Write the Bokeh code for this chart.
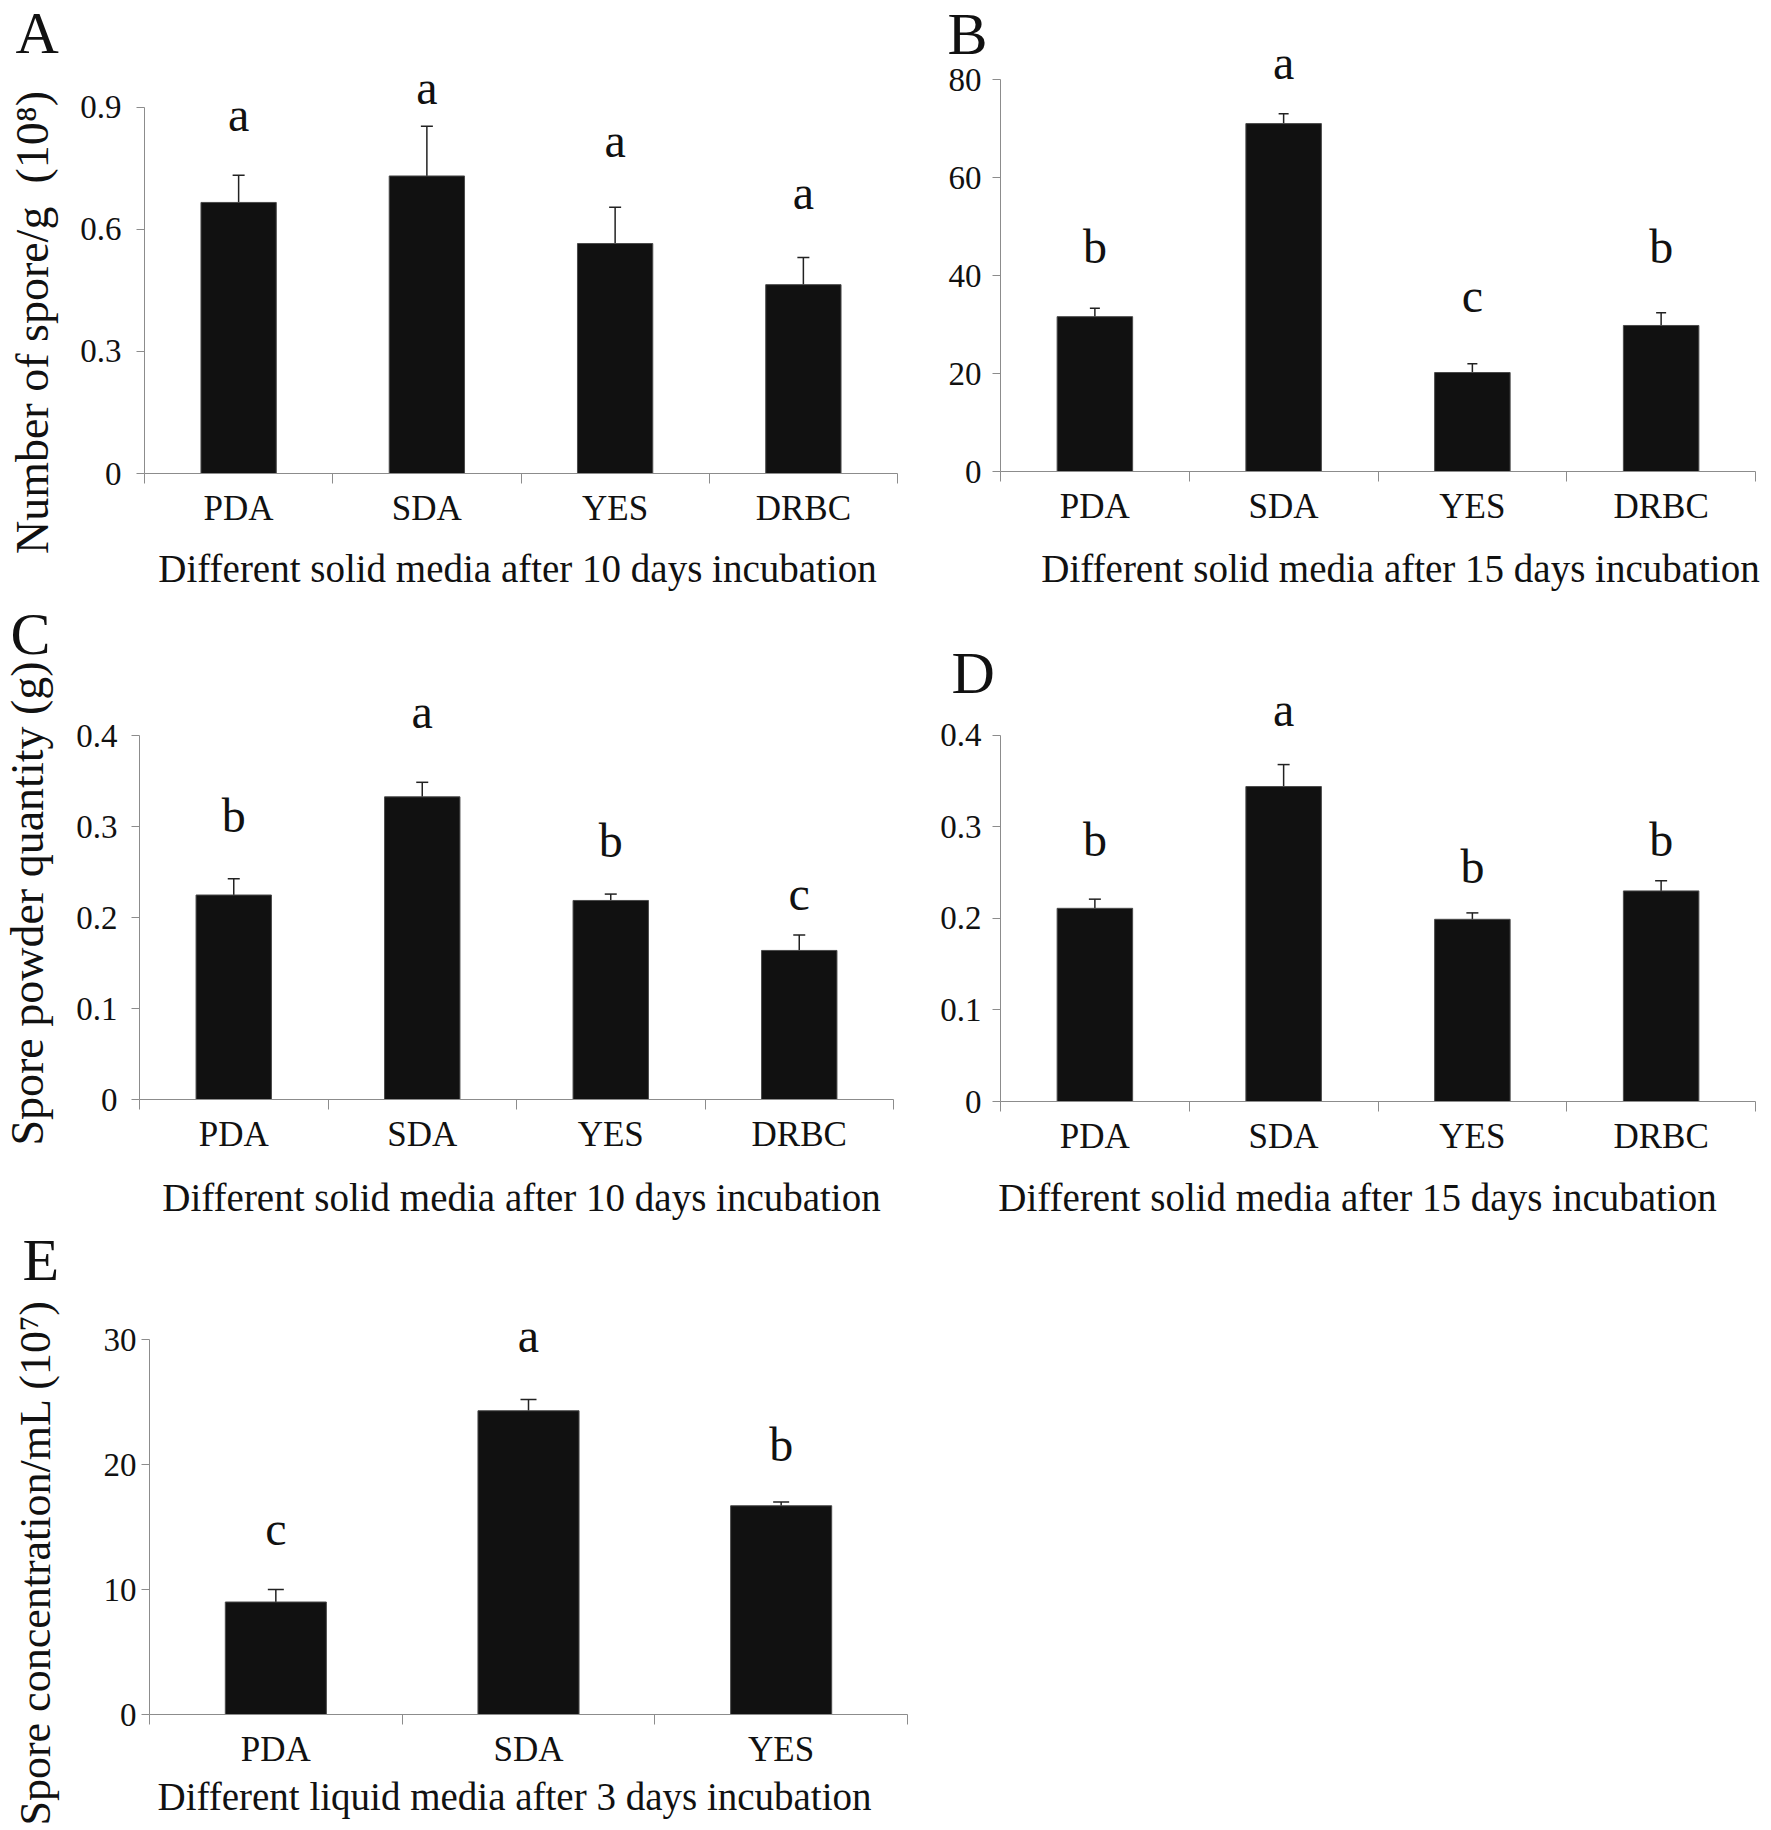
import math
from bokeh.plotting import figure
from bokeh.layouts import row, column
from bokeh.models import Range1d, FixedTicker, Whisker, TeeHead, ColumnDataSource, GridBox
from bokeh.core.properties import value
from bokeh.embed import file_html
from bokeh.resources import INLINE

FONT = "Liberation Serif"
GRAY = "#8c8c8c"
INK = "#111111"
PAGE_W, PAGE_H = 1763, 1830
BASE_FIX = 0.38  # em shift that brings Bokeh's "alphabetic" baseline onto the intended line

# ---------------- data ----------------
media4 = ["PDA", "SDA", "YES", "DRBC"]
media3 = ["PDA", "SDA", "YES"]

A_mean = [0.666, 0.731, 0.565, 0.464]
A_err = [0.067, 0.122, 0.089, 0.067]
A_letters = ["a", "a", "a", "a"]
A_yticks = [0, 0.3, 0.6, 0.9]
A_ylabels = ["0", "0.3", "0.6", "0.9"]

B_mean = [31.6, 71.0, 20.2, 29.8]
B_err = [1.7, 2.0, 1.8, 2.6]
B_letters = ["b", "a", "c", "b"]
B_yticks = [0, 20, 40, 60, 80]
B_ylabels = ["0", "20", "40", "60", "80"]

C_mean = [0.225, 0.333, 0.219, 0.164]
C_err = [0.018, 0.016, 0.007, 0.017]
C_letters = ["b", "a", "b", "c"]
C_yticks = [0, 0.1, 0.2, 0.3, 0.4]
C_ylabels = ["0", "0.1", "0.2", "0.3", "0.4"]

D_mean = [0.211, 0.344, 0.199, 0.230]
D_err = [0.010, 0.024, 0.007, 0.011]
D_letters = ["b", "a", "b", "b"]
D_yticks = [0, 0.1, 0.2, 0.3, 0.4]
D_ylabels = ["0", "0.1", "0.2", "0.3", "0.4"]

E_mean = [9.0, 24.3, 16.7]
E_err = [1.0, 0.9, 0.3]
E_letters = ["c", "a", "b"]
E_yticks = [0, 10, 20, 30]
E_ylabels = ["0", "10", "20", "30"]

# height (data units) of the significance letters' baselines
A_letter_y = [0.837, 0.903, 0.774, 0.646]
B_letter_y = [42.3, 79.8, 32.2, 42.3]
C_letter_y = [0.293, 0.407, 0.265, 0.207]
D_letter_y = [0.266, 0.408, 0.237, 0.266]
E_letter_y = [13.46, 28.85, 20.16]

# ---------------- titles (text, page position) ----------------
tags = ["A", "B", "C", "D", "E"]
tag_pos = [(15, 55), (947, 56), (10, 656), (951, 695), (22, 1282)]

x_titles = ["Different solid media after 10 days incubation",
            "Different solid media after 15 days incubation",
            "Different solid media after 10 days incubation",
            "Different solid media after 15 days incubation",
            "Different liquid media after 3 days incubation"]
x_title_pos = [(517, 583), (1400, 583), (521, 1212), (1357, 1212), (514, 1811)]

y_titles = ["Number of spore/g \u00a0(10\u2078)",
            "Spore powder quantity (g)",
            "Spore concentration/mL (10\u2077)"]
y_title_pos = [(32, 322), (27, 903), (35, 1562)]
y_title_size = [46, 46, 44]

LETTER_FS = 48
TAG_FS = 60
XT_FS = 39


def panel(cats, means, errs, letters, letter_y, yticks, ylabels, yend,
          origin, size, xframe, zero_px, tick_px, cap, ystandoff):
    ox, oy = origin
    w, h = size
    L, R = xframe
    B = zero_px
    T = int(round(B - (B - tick_px) * yend / yticks[-1]))
    n = len(cats)
    p = figure(width=w, height=h, x_range=Range1d(0, n), y_range=Range1d(0, yend),
               output_backend="svg", toolbar_location=None,
               min_border_left=L - ox, min_border_right=ox + w - R,
               min_border_top=T - oy, min_border_bottom=oy + h - B)
    p.outline_line_color = None
    p.xgrid.visible = False
    p.ygrid.visible = False
    p.background_fill_color = None
    p.border_fill_color = None

    centers = [i + 0.5 for i in range(n)]
    bounds = [float(i) for i in range(n + 1)]

    xa = p.xaxis[0]
    xa.ticker = FixedTicker(ticks=centers, minor_ticks=bounds)
    xa.major_label_overrides = {c: lab for c, lab in zip(centers, cats)}
    xa.axis_line_color = GRAY
    xa.major_tick_out = 0
    xa.major_tick_in = 0
    xa.major_tick_line_color = None
    xa.minor_tick_out = 10
    xa.minor_tick_in = 0
    xa.minor_tick_line_color = GRAY
    xa.major_label_standoff = 5
    xa.major_label_text_font = FONT
    xa.major_label_text_font_size = "35px"
    xa.major_label_text_color = INK

    ya = p.yaxis[0]
    ya.ticker = FixedTicker(ticks=yticks, minor_ticks=[])
    ya.major_label_overrides = {t: lab for t, lab in zip(yticks, ylabels)}
    ya.bounds = (0, yticks[-1])
    ya.axis_line_color = GRAY
    ya.major_tick_line_color = GRAY
    ya.major_tick_out = 8
    ya.major_tick_in = 0
    ya.minor_tick_line_color = None
    ya.major_label_standoff = ystandoff
    ya.major_label_text_font = FONT
    ya.major_label_text_font_size = "33px"
    ya.major_label_text_color = INK

    src = ColumnDataSource(dict(x=centers, top=means,
                                upper=[m + e for m, e in zip(means, errs)],
                                ly=letter_y, letter=letters))
    p.vbar(x="x", top="top", bottom=0, width=0.4, source=src,
           fill_color=INK, line_color="#4a4a4a", line_width=1)
    p.add_layout(Whisker(base="x", lower="top", upper="upper", source=src,
                         dimension="height", line_color="#222222", line_width=1.5,
                         upper_head=TeeHead(size=cap, line_color="#222222", line_width=1.5),
                         lower_head=None))
    p.text(x="x", y="ly", text="letter", source=src,
           text_font=value(FONT), text_font_size=f"{LETTER_FS}px", text_color=INK,
           text_align="center", text_baseline="alphabetic",
           y_offset=-round(BASE_FIX * LETTER_FS))
    # wrap in its own row so that neighbouring frames are not forced into alignment
    return row(p)


SPLIT = 930
ROW2 = 595
ROW3 = 1220
pA = panel(media4, A_mean, A_err, A_letters, A_letter_y, A_yticks, A_ylabels, 1.0,
           origin=(0, 0), size=(SPLIT, ROW2), xframe=(144, 897), zero_px=473, tick_px=107,
           cap=12, ystandoff=15)
pB = panel(media4, B_mean, B_err, B_letters, B_letter_y, B_yticks, B_ylabels, 90,
           origin=(SPLIT, 0), size=(PAGE_W - SPLIT, ROW2), xframe=(1000, 1755), zero_px=471, tick_px=79,
           cap=10, ystandoff=11)
pC = panel(media4, C_mean, C_err, C_letters, C_letter_y, C_yticks, C_ylabels, 0.45,
           origin=(0, ROW2), size=(SPLIT, ROW3 - ROW2), xframe=(139, 893), zero_px=1099, tick_px=735,
           cap=12, ystandoff=14)
pD = panel(media4, D_mean, D_err, D_letters, D_letter_y, D_yticks, D_ylabels, 0.45,
           origin=(SPLIT, ROW2), size=(PAGE_W - SPLIT, ROW3 - ROW2), xframe=(1000, 1755), zero_px=1101,
           tick_px=735, cap=12, ystandoff=11)
pE = panel(media3, E_mean, E_err, E_letters, E_letter_y, E_yticks, E_ylabels, 32,
           origin=(0, ROW3), size=(SPLIT, PAGE_H - ROW3), xframe=(149, 907), zero_px=1714, tick_px=1339,
           cap=16, ystandoff=5)

panels = row(column(pA, pC, pE), column(pB, pD))

# transparent overlay carrying the panel tags and axis titles (page pixel coordinates)
ov = figure(width=PAGE_W, height=PAGE_H, x_range=Range1d(0, PAGE_W), y_range=Range1d(0, PAGE_H),
            x_axis_location=None, y_axis_location=None, output_backend="svg",
            toolbar_location=None, min_border=0)
ov.outline_line_color = None
ov.grid.visible = False
ov.background_fill_color = None
ov.border_fill_color = None

ov.text(x=[p[0] for p in tag_pos], y=[PAGE_H - p[1] for p in tag_pos], text=tags,
        text_font=value(FONT), text_font_size=f"{TAG_FS}px", text_color=INK,
        text_align="left", text_baseline="alphabetic", y_offset=-round(BASE_FIX * TAG_FS))
ov.text(x=[p[0] for p in x_title_pos], y=[PAGE_H - p[1] for p in x_title_pos], text=x_titles,
        text_font=value(FONT), text_font_size=f"{XT_FS}px", text_color=INK,
        text_align="center", text_baseline="alphabetic", y_offset=-round(BASE_FIX * XT_FS))
for t, (px, py), fs in zip(y_titles, y_title_pos, y_title_size):
    ov.text(x=[px], y=[PAGE_H - py], text=[t], angle=math.pi / 2,
            text_font=value(FONT), text_font_size=f"{fs}px", text_color=INK,
            text_align="center", text_baseline="middle")

layout = GridBox(children=[(panels, 0, 0), (ov, 0, 0)])
open("out.html", "w").write(file_html(layout, INLINE))
